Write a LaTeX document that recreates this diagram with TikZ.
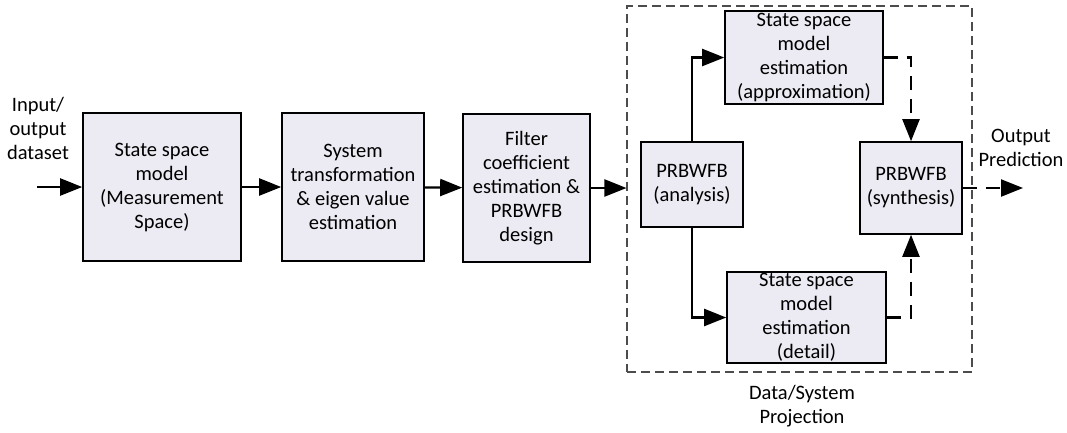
\documentclass[tikz,border=0pt]{standalone}
\usepackage{fontspec}
\setmainfont{Carlito}
\usetikzlibrary{arrows.meta}
\definecolor{boxfill}{RGB}{236,234,242}
\begin{document}
\begin{tikzpicture}[x=1pt, y=-1pt, every node/.style = {align=center, inner sep=0pt, font=\fontsize{20.5}{24}\selectfont}, line width=2pt]
	\tikzstyle{blk} = [draw, fill=boxfill, line width=1.6pt]
	\tikzstyle{txt} = [draw=none]
	\tikzstyle{arr} = [-{Triangle[length=22pt, width=17pt]}, line width=2.2pt]
	\tikzstyle{darr} = [arr, dash pattern=on 14pt off 9pt]
	\tikzstyle{frame} = [draw=black!70, dash pattern=on 9pt off 5pt, line width=1.1pt]
	\useasboundingbox (0,0) rectangle (1067,432);
	% main chain
	\node[txt] (inlbl) at (38,128) {Input/\\output\\dataset};
	\coordinate (in) at (37,187);
	\node[blk, minimum width=158pt, minimum height=148pt] (ssm) at (162,187) {State space\\model\\(Measurement\\Space)};
	\node[blk, minimum width=142pt, minimum height=148pt] (trans) at (353,187) {System\\transformation\\\& eigen value\\estimation};
	\node[blk, minimum width=127pt, minimum height=148pt] (filt) at (526.5,188) {Filter\\coefficient\\estimation \&\\PRBWFB\\design};
	% projection block
	\node[frame, minimum width=345pt, minimum height=366pt] (proj) at (799.5,189) {};
	\node[blk, minimum width=102pt, minimum height=85pt] (ana) at (692,184.5) {PRBWFB\\(analysis)};
	\node[blk, minimum width=158pt, minimum height=93pt] (apx) at (804,57.5) {State space\\model\\estimation\\(approximation)};
	\node[blk, minimum width=159pt, minimum height=91pt] (det) at (806.5,317.5) {State space\\model\\estimation\\(detail)};
	\node[blk, minimum width=102pt, minimum height=92pt] (syn) at (911,188) {PRBWFB\\(synthesis)};
	\coordinate (out) at (1023,188);
	\node[txt] (outlbl) at (1021,148) {Output\\Prediction};
	\node[txt] (projlbl) at (802,406) {Data/System\\Projection};
	% connectors
	\draw[arr] (in) -- (ssm);
	\draw[arr] (ssm) -- (trans);
	\draw[arr] (trans) -- (filt);
	\draw[arr] (filt.east) -- (proj.west |- filt.east);
	\draw[arr] (ana.north) |- (apx.west);
	\draw[arr] (ana.south) |- (det.west);
	\draw[darr] (apx.east) -| (syn.north);
	\draw[darr] (det.east) -| (syn.south);
	\draw[darr] (syn.east) -- (out);
\end{tikzpicture}
\end{document}
